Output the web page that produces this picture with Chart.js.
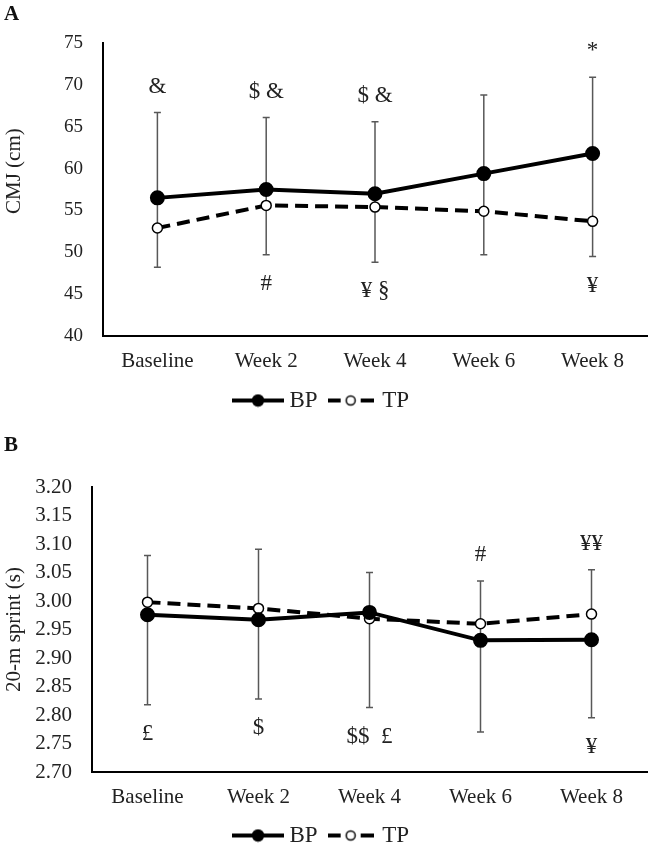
<!DOCTYPE html>
<html>
<head>
<meta charset="utf-8">
<script src="https://cdn.jsdelivr.net/npm/chart.js@4.4.0/dist/chart.umd.min.js"></script>
<style>
  body { margin: 0; background: #fff; width: 650px; height: 844px; position: relative; overflow: hidden; }
  .panel { position: absolute; left: 0; width: 650px; }
  .tag { position: absolute; left: 4px; font-family: "Liberation Serif", serif; font-weight: bold; font-size: 21px; color: #111; }
</style>
</head>
<body>
<div class="panel" style="top:0;height:422px"><canvas id="chartA"></canvas></div>
<div class="panel" style="top:420px;height:437px"><canvas id="chartB"></canvas></div>
<div class="tag" style="top:1px">A</div>
<div class="tag" style="top:432px">B</div>
<script>
const weeks = ['Baseline', 'Week 2', 'Week 4', 'Week 6', 'Week 8'];

// Panel A - CMJ (cm)
const cmjBP = [56.5, 57.5, 57.0, 59.4, 61.8];
const cmjTP = [52.9, 55.6, 55.4, 54.9, 53.7];
const cmjUpper = [66.7, 66.1, 65.6, 68.8, 70.9];
const cmjLower = [48.2, 49.7, 48.8, 49.7, 49.5];
const cmjAbove = ['&', '$ &', '$ &', '', '*'];
const cmjBelow = ['', '#', '¥ §', '', '¥'];
const cmjTicks = [40, 45, 50, 55, 60, 65, 70, 75];

// Panel B - 20-m sprint (s)
const sprintBP = [2.976, 2.967, 2.980, 2.931, 2.932];
const sprintTP = [2.998, 2.987, 2.969, 2.960, 2.977];
const sprintUpper = [3.080, 3.091, 3.050, 3.035, 3.055];
const sprintLower = [2.818, 2.828, 2.813, 2.770, 2.795];
const sprintAbove = ['', '', '', '#', '¥¥'];
const sprintBelow = ['£', '$', '$$  £', '', '¥'];
const sprintTicks = [2.70, 2.75, 2.80, 2.85, 2.90, 2.95, 3.00, 3.05, 3.10, 3.15, 3.20];

Chart.defaults.font.family = '"Liberation Serif", "Times New Roman", serif';
Chart.defaults.font.size = 21;
Chart.defaults.color = '#222';

// small "line + marker" swatch for the legend
function legendIcon(dashed) {
    const c = document.createElement('canvas');
    c.width = dashed ? 46 : 52;
    c.height = 14;
    const g = c.getContext('2d');
    const mid = c.width / 2;
    g.strokeStyle = '#000';
    g.lineWidth = 4;
    g.beginPath();
    if (dashed) {
        g.moveTo(0, 7); g.lineTo(13, 7);
        g.moveTo(33, 7); g.lineTo(46, 7);
    } else {
        g.moveTo(0, 7); g.lineTo(52, 7);
    }
    g.stroke();
    g.beginPath();
    g.arc(mid, 7, dashed ? 4.5 : 5.5, 0, Math.PI * 2);
    g.fillStyle = dashed ? '#fff' : '#000';
    g.fill();
    g.lineWidth = 1.5;
    g.stroke();
    return c;
}

// error bars and significance symbols
const whiskers = {
    id: 'whiskers',
    beforeDatasetsDraw(chart, args, opts) {
        const x = chart.scales.x, y = chart.scales.y, ctx = chart.ctx;
        ctx.save();
        ctx.strokeStyle = '#585858';
        ctx.lineWidth = 1.5;
        opts.upper.forEach((hi, i) => {
            const px = x.getPixelForValue(i);
            const top = y.getPixelForValue(hi);
            const bot = y.getPixelForValue(opts.lower[i]);
            ctx.beginPath();
            ctx.moveTo(px, top); ctx.lineTo(px, bot);
            ctx.moveTo(px - 3.5, top); ctx.lineTo(px + 3.5, top);
            ctx.moveTo(px - 3.5, bot); ctx.lineTo(px + 3.5, bot);
            ctx.stroke();
        });
        ctx.restore();
    },
    afterDatasetsDraw(chart, args, opts) {
        const x = chart.scales.x, y = chart.scales.y, ctx = chart.ctx;
        ctx.save();
        ctx.fillStyle = '#222';
        ctx.font = '23px "Liberation Serif", serif';
        ctx.textAlign = 'center';
        ctx.textBaseline = 'middle';
        weeks.forEach((w, i) => {
            const px = x.getPixelForValue(i);
            if (opts.above[i]) ctx.fillText(opts.above[i], px, y.getPixelForValue(opts.upper[i]) - 26);
            if (opts.below[i]) ctx.fillText(opts.below[i], px, y.getPixelForValue(opts.lower[i]) + 29);
        });
        ctx.restore();
    }
};

function makeChart(id, cfg) {
    return new Chart(document.getElementById(id), {
        type: 'line',
        data: {
            labels: weeks,
            datasets: [
                {
                    label: 'BP',
                    data: cfg.bp,
                    borderColor: '#000',
                    borderWidth: 4,
                    pointRadius: 5.5,
                    pointBackgroundColor: '#000',
                    pointBorderColor: '#000',
                    tension: 0
                },
                {
                    label: 'TP',
                    data: cfg.tp,
                    borderColor: '#000',
                    borderWidth: 4,
                    borderDash: [13, 7],
                    pointRadius: 5,
                    pointBackgroundColor: '#fff',
                    pointBorderColor: '#000',
                    pointBorderWidth: 1.5,
                    tension: 0
                }
            ]
        },
        options: {
            responsive: true,
            maintainAspectRatio: false,
            animation: false,
            layout: { autoPadding: false, padding: { top: cfg.top, right: 3, bottom: 0, left: 0 } },
            scales: {
                x: {
                    offset: true,
                    grid: { display: false, drawTicks: false },
                    border: { color: '#000', width: 2 },
                    ticks: { padding: 13, color: '#222', font: { size: 21 } },
                    afterFit: s => { s.height = cfg.xHeight; }
                },
                y: {
                    min: cfg.ticks[0],
                    max: cfg.ticks[cfg.ticks.length - 1],
                    grid: { display: false, drawTicks: false },
                    border: { color: '#000', width: 2 },
                    afterBuildTicks: s => { s.ticks = cfg.ticks.map(v => ({ value: v })); },
                    ticks: {
                        padding: 20,
                        color: '#222',
                        font: { size: cfg.tickSize },
                        callback: v => v.toFixed(cfg.decimals)
                    },
                    title: { display: true, text: cfg.title, color: '#222', font: { size: 21 }, padding: 2 },
                    afterFit: s => { s.width = cfg.left; }
                }
            },
            plugins: {
                legend: {
                    position: 'bottom',
                    labels: {
                        usePointStyle: true,
                        pointStyleWidth: 40,
                        padding: 13,
                        color: '#222',
                        font: { size: 23 },
                        generateLabels: () => [
                            { text: 'BP', pointStyle: legendIcon(false), datasetIndex: 0, fontColor: '#222' },
                            { text: 'TP', pointStyle: legendIcon(true), datasetIndex: 1, fontColor: '#222' }
                        ]
                    }
                },
                tooltip: { enabled: false },
                whiskers: { upper: cfg.upper, lower: cfg.lower, above: cfg.above, below: cfg.below }
            }
        },
        plugins: [whiskers]
    });
}

makeChart('chartA', {
    bp: cmjBP, tp: cmjTP, upper: cmjUpper, lower: cmjLower,
    above: cmjAbove, below: cmjBelow, ticks: cmjTicks,
    title: '\u00a0\u00a0\u00a0\u00a0\u00a0\u00a0\u00a0CMJ (cm)', left: 103, top: 43, xHeight: 40,
    tickSize: 19, decimals: 0
});

makeChart('chartB', {
    bp: sprintBP, tp: sprintTP, upper: sprintUpper, lower: sprintLower,
    above: sprintAbove, below: sprintBelow, ticks: sprintTicks,
    title: '20-m sprint (s)', left: 92, top: 67, xHeight: 39,
    tickSize: 21, decimals: 2
});
</script>
</body>
</html>
